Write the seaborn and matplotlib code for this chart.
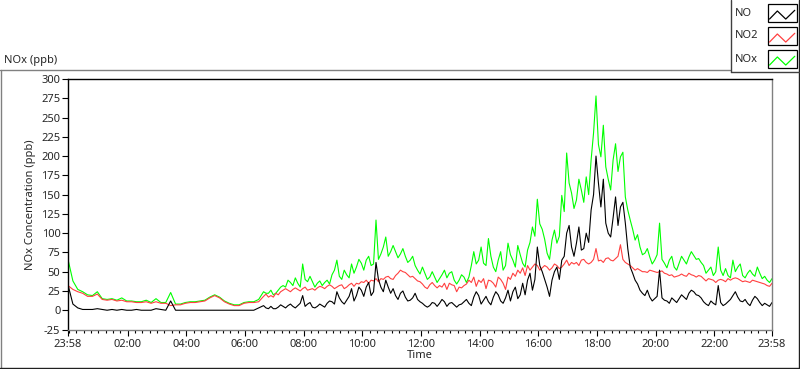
import pandas as pd
import seaborn as sns
import matplotlib.pyplot as plt
import matplotlib.dates as mdates
from matplotlib.ticker import FixedLocator, FixedFormatter
from matplotlib.patches import Rectangle

# night part: readings every 10 min from 23:58 to 06:28 (ppb)
no_night = [33, 8, 3, 1, 1, 1, 2, 1, 0, 1, 0, 1, 0, 0, 1, 0, 0, 0, 2, 1,
            0, 12, 0, 0, 0, 0, 0, 0, 0, 0, 0, 0, 0, 0, 0, 0, 0, 0, 0, 3]
no2_night = [32, 27, 24, 22, 18, 18, 21, 14, 13, 14, 12, 13, 11, 11, 10, 10, 11, 9, 11, 9,
             9, 6, 7, 7, 9, 10, 10, 11, 12, 16, 19, 16, 11, 8, 6, 6, 9, 10, 10, 11]
nox_night = [66, 38, 27, 24, 20, 19, 24, 15, 14, 15, 13, 16, 12, 12, 11, 11, 13, 10, 15, 10,
             10, 23, 8, 8, 10, 11, 11, 12, 13, 17, 20, 17, 12, 9, 7, 7, 10, 11, 11, 14]

# day part: readings every 5 min from 06:38 to 23:58 (ppb)
no_day = [6, 3, 2, 5, 2, 2, 4, 7, 5, 3, 6, 8, 5, 3, 6, 9, 19, 5, 8, 10,
          4, 3, 5, 8, 6, 4, 9, 12, 11, 8, 24, 16, 11, 8, 13, 18, 28, 12, 19, 30,
          26, 18, 30, 36, 19, 24, 62, 40, 30, 24, 39, 30, 22, 28, 19, 14, 22, 25, 17, 12,
          13, 16, 22, 14, 11, 9, 6, 4, 6, 10, 9, 5, 9, 14, 11, 5, 9, 10, 7, 4,
          7, 8, 11, 14, 9, 6, 17, 24, 19, 8, 13, 18, 11, 7, 17, 24, 20, 12, 9, 16,
          26, 12, 24, 30, 15, 20, 35, 20, 39, 48, 26, 40, 82, 58, 50, 40, 30, 18, 39, 50,
          56, 40, 65, 70, 100, 110, 82, 70, 87, 108, 78, 80, 100, 88, 130, 150, 200, 165, 134, 170,
          113, 100, 95, 120, 147, 110, 134, 140, 113, 80, 56, 48, 39, 34, 26, 22, 19, 26, 17, 12,
          15, 18, 52, 16, 13, 12, 9, 16, 13, 10, 15, 20, 17, 14, 22, 26, 24, 20, 19, 16,
          11, 8, 6, 12, 9, 7, 32, 10, 6, 8, 11, 14, 19, 24, 17, 12, 11, 14, 9, 6,
          13, 18, 15, 10, 6, 9, 7, 5, 10]
no2_day = [18, 21, 17, 19, 17, 22, 20, 24, 26, 28, 26, 24, 27, 29, 27, 25, 28, 30, 26, 27,
           28, 26, 29, 31, 30, 28, 31, 33, 31, 28, 30, 32, 33, 28, 30, 33, 35, 31, 35, 34,
           37, 36, 39, 35, 39, 38, 41, 37, 41, 40, 43, 44, 41, 40, 45, 48, 52, 50, 49, 46,
           43, 44, 41, 38, 37, 34, 30, 28, 33, 36, 32, 29, 32, 30, 35, 27, 35, 33, 32, 24,
           30, 29, 32, 34, 39, 36, 43, 31, 39, 36, 41, 28, 39, 38, 35, 30, 43, 40, 35, 27,
           43, 40, 48, 44, 52, 48, 55, 45, 58, 52, 56, 60, 58, 52, 55, 58, 56, 52, 55, 60,
           58, 54, 56, 60, 65, 58, 62, 60, 62, 58, 65, 66, 62, 60, 62, 66, 80, 64, 65, 62,
           67, 68, 65, 64, 67, 70, 85, 66, 62, 60, 58, 55, 52, 54, 52, 50, 50, 49, 52, 51,
           50, 49, 50, 51, 48, 47, 45, 46, 43, 44, 45, 47, 45, 44, 48, 46, 45, 43, 45, 44,
           41, 38, 41, 40, 39, 36, 39, 40, 39, 37, 41, 39, 41, 42, 41, 39, 37, 38, 37, 36,
           39, 38, 37, 36, 35, 34, 32, 31, 35]
nox_day = [24, 22, 22, 26, 20, 22, 26, 30, 32, 30, 39, 36, 32, 42, 35, 30, 60, 40, 37, 44,
           37, 30, 35, 38, 32, 36, 39, 34, 46, 52, 65, 44, 40, 52, 46, 42, 60, 48, 56, 66,
           61, 52, 65, 70, 58, 60, 117, 66, 73, 82, 95, 70, 76, 84, 76, 68, 73, 80, 70, 62,
           65, 70, 58, 52, 47, 56, 48, 40, 43, 50, 43, 36, 41, 46, 52, 42, 48, 50, 39, 34,
           39, 46, 43, 36, 43, 58, 76, 60, 65, 82, 61, 58, 93, 70, 56, 50, 65, 76, 52, 58,
           87, 72, 65, 56, 84, 72, 61, 56, 78, 88, 108, 96, 144, 112, 105, 92, 74, 66, 91, 104,
           87, 96, 149, 128, 204, 165, 152, 132, 143, 170, 156, 140, 173, 150, 195, 230, 278, 215, 199, 240,
           186, 170, 156, 195, 216, 180, 199, 205, 147, 130, 117, 105, 91, 98, 82, 72, 74, 80, 69, 60,
           65, 72, 113, 66, 61, 55, 65, 70, 56, 52, 61, 70, 65, 60, 69, 76, 71, 66, 67, 62,
           58, 48, 52, 56, 45, 50, 82, 52, 45, 54, 45, 42, 65, 50, 56, 60, 45, 42, 48, 52,
           47, 44, 56, 48, 41, 44, 39, 36, 41]

series_names = ['NO', 'NO2', 'NOx']
series_colors = ['#000000', '#ff4040', '#00ff00']
time_labels = ['23:58', '02:00', '04:00', '06:00', '08:00', '10:00', '12:00',
               '14:00', '16:00', '18:00', '20:00', '22:00', '23:58']
y_ticks = list(range(-25, 301, 25))

start = pd.Timestamp('2015-06-01 23:58')
t_night = pd.date_range(start, periods=len(no_night), freq='10min')
t_day = pd.date_range(pd.Timestamp('2015-06-02 06:38'), periods=len(no_day), freq='5min')
times = t_night.append(t_day)

df = pd.DataFrame({'Time': times,
                   'NO': no_night + no_day,
                   'NO2': no2_night + no2_day,
                   'NOx': nox_night + nox_day})
long_df = df.melt(id_vars='Time', var_name='series', value_name='ppb')

sns.set_theme(style='white')
plt.rcParams['font.family'] = ['Noto Sans', 'DejaVu Sans']
fs = 8

fig = plt.figure(figsize=(8, 3.69), dpi=100)
ax = fig.add_axes([68 / 800, 1 - 329.5 / 369, 704 / 800, 250.5 / 369])

sns.lineplot(data=long_df, x='Time', y='ppb', hue='series',
             hue_order=['NOx', 'NO2', 'NO'],
             palette=dict(zip(series_names, series_colors)),
             linewidth=0.8, legend=False, ax=ax)

ax.set_xlim(times[0], times[-1])
ax.set_ylim(-25, 300)
ax.set_yticks(y_ticks)
ax.set_yticklabels([str(t) for t in y_ticks])

# tick positions from label strings
tick_times = [times[0]]
for lab in time_labels[1:-1]:
    tick_times.append(pd.Timestamp('2015-06-02 ' + lab))
tick_times.append(times[-1])
ax.xaxis.set_major_locator(FixedLocator(mdates.date2num(tick_times)))
ax.xaxis.set_major_formatter(FixedFormatter(time_labels))
ax.xaxis.set_minor_locator(mdates.MinuteLocator(byminute=[0, 15, 30, 45]))

for side in ['top', 'left']:
    ax.spines[side].set_color('black')
for side in ['right', 'bottom']:
    ax.spines[side].set_color('#808080')
for sp in ax.spines.values():
    sp.set_linewidth(1)

ax.tick_params(axis='y', which='major', direction='out', length=4, width=0.8,
               color='black', labelsize=fs, pad=1.5, left=True)
ax.tick_params(axis='x', which='major', direction='out', length=4.5, width=0.8,
               color='black', labelsize=fs, pad=2, bottom=True)
ax.tick_params(axis='x', which='minor', direction='out', length=2.5, width=0.8,
               color='black', bottom=True)

ax.set_ylabel('NOx Concentration (ppb)', fontsize=fs)
ax.yaxis.set_label_coords(-0.046, 0.5)
ax.set_xlabel('Time', fontsize=fs)
ax.xaxis.set_label_coords(0.5, -0.082)

# frame, title and legend in pixel coordinates
ov = fig.add_axes([0, 0, 1, 1], zorder=5)
ov.set_xlim(0, 800)
ov.set_ylim(369, 0)
ov.axis('off')
ov.patch.set_alpha(0)

ov.plot([0, 730], [69.5, 69.5], color='#808080', lw=1)
ov.plot([0.5, 0.5], [69.5, 367.5], color='#808080', lw=1)
ov.plot([798.5, 798.5], [0, 367.5], color='#202020', lw=1)
ov.plot([0, 799], [367.5, 367.5], color='#202020', lw=1)
ov.text(4, 60, 'NOx (ppb)', fontsize=fs, ha='left', va='center')

ov.plot([730.5, 730.5], [0, 72], color='#404040', lw=1)
ov.plot([730.5, 798.5], [71.5, 71.5], color='#404040', lw=1)
box_tops = [4, 27, 50]
for name, color, top in zip(series_names, series_colors, box_tops):
    ov.text(735, top + 9, name, fontsize=fs, ha='left', va='center')
    ov.add_patch(Rectangle((767.5, top), 29, 17.5, facecolor='white',
                           edgecolor='black', lw=0.9))
    zx = [767.5 + 29 * f for f in (0.07, 0.34, 0.63, 0.94)]
    zy = [top + 17.5 * f for f in (0.86, 0.4, 0.86, 0.36)]
    ov.plot(zx, zy, color=color, lw=0.9)

fig.savefig('out.png', dpi=100)
